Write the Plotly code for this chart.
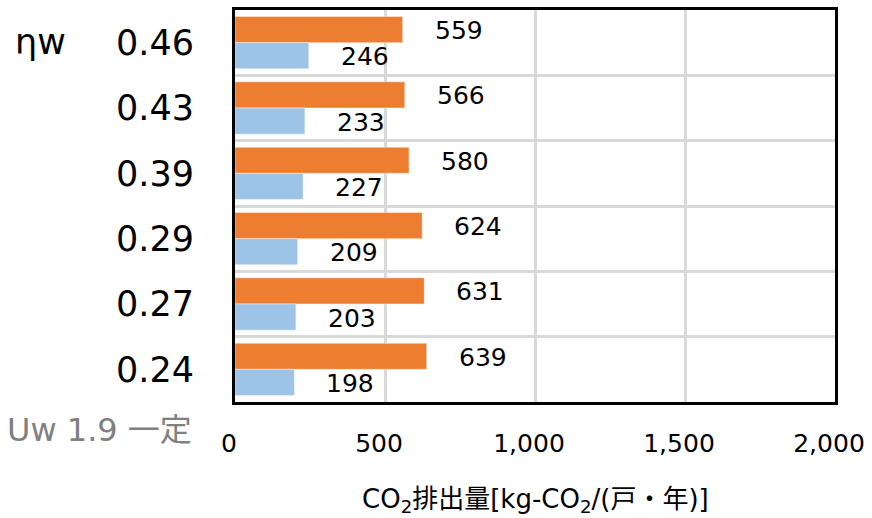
import plotly.graph_objects as go

# Window solar heat gain coefficient (ηw) cases, top to bottom
categories = ["0.46", "0.43", "0.39", "0.29", "0.27", "0.24"]
# Annual CO2 emissions per dwelling [kg-CO2]
series_orange = [559, 566, 580, 624, 631, 639]
series_blue = [246, 233, 227, 209, 203, 198]
x_ticks = [0, 500, 1000, 1500, 2000]
x_tick_text = ["0", "500", "1,000", "1,500", "2,000"]

FONT = "DejaVu Sans, Verdana, Noto Sans CJK JP, sans-serif"
ORANGE = "#ED7D31"
BLUE = "#9DC3E6"
GRID = "#D9D9D9"

BARGAP = 0.2
n = len(categories)
idx = list(range(n))
half = (1 - BARGAP) / 4  # centre offset of each bar within its group

fig = go.Figure()
fig.add_trace(go.Bar(
    y=idx, x=series_orange, orientation="h", name="orange",
    marker=dict(color=ORANGE, line=dict(color="rgba(255,255,255,0.45)", width=1)),
))
fig.add_trace(go.Bar(
    y=idx, x=series_blue, orientation="h", name="blue",
    marker=dict(color=BLUE, line=dict(color="rgba(255,255,255,0.45)", width=1)),
))

annotations = []
for i in idx:
    annotations.append(dict(
        x=series_orange[i], y=i - half, xref="x", yref="y", text=str(series_orange[i]),
        showarrow=False, xanchor="left", yanchor="middle", xshift=30, yshift=-1,
        font=dict(family=FONT, size=25, color="black"),
    ))
    annotations.append(dict(
        x=series_blue[i], y=i + half, xref="x", yref="y", text=str(series_blue[i]),
        showarrow=False, xanchor="left", yanchor="middle", xshift=30, yshift=-1,
        font=dict(family=FONT, size=25, color="black"),
    ))

annotations.append(dict(
    x=0, y=0, xref="paper", yref="y", text="ηw", showarrow=False,
    xanchor="right", yanchor="middle", xshift=-167, yshift=1,
    font=dict(family=FONT, size=35, color="black"),
))
annotations.append(dict(
    x=0, y=0, xref="paper", yref="paper", text="Uw 1.9 一定", showarrow=False,
    xanchor="right", yanchor="middle", xshift=-41, yshift=-28,
    font=dict(family=FONT, size=32, color="#808080"),
))
annotations.append(dict(
    x=0.5, y=0, xref="paper", yref="paper",
    text="CO<sub>2</sub>排出量[kg-CO<sub>2</sub>/(戸・年)]", showarrow=False,
    xanchor="center", yanchor="middle", yshift=-98,
    font=dict(family=FONT, size=26, color="black"),
))

fig.update_layout(
    width=872, height=518,
    margin=dict(l=235, r=37, t=10, b=116),
    paper_bgcolor="white", plot_bgcolor="white",
    barmode="group", bargap=BARGAP, bargroupgap=0,
    showlegend=False,
    annotations=annotations,
    xaxis=dict(
        range=[0, 2000], tickvals=x_ticks, ticktext=x_tick_text,
        showgrid=True, gridcolor=GRID, gridwidth=2.5, zeroline=False,
        showline=True, linecolor="black", linewidth=3, mirror=True,
        ticks="", ticklabelstandoff=17, ticklabelshift=-6, automargin=False,
        tickfont=dict(family=FONT, size=25, color="black"),
    ),
    yaxis=dict(
        range=[n - 0.5, -0.5], tickvals=idx, ticktext=categories,
        showgrid=False, zeroline=False,
        minor=dict(tickvals=[i + 0.5 for i in idx[:-1]], showgrid=True,
                   gridcolor=GRID, gridwidth=2.5, ticks=""),
        showline=True, linecolor="black", linewidth=3, mirror=True,
        ticks="", ticklabelstandoff=31, automargin=False,
        tickfont=dict(family=FONT, size=35, color="black"),
    ),
)

fig.write_html("out.html")
